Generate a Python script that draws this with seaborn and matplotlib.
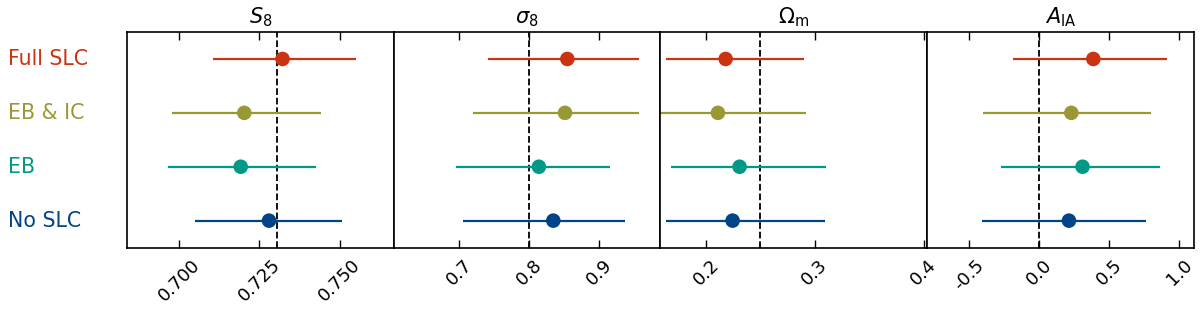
import numpy as np
import pandas as pd
import matplotlib
matplotlib.use("Agg")
import matplotlib.pyplot as plt
import seaborn as sns

# runs (top to bottom) and their colours
runs = ['Full SLC', 'EB & IC', 'EB', 'No SLC']
colors = ['#cc3311', '#999933', '#009988', '#004488']

params = [r'$S_8$', r'$\sigma_8$', r'$\Omega_{\rm m}$', r'$A_{\rm IA}$']
fiducial = [0.7304, 0.8, 0.25, 0.0]

# best fit, lower and upper edge of the error bar, per run
s8_mid = [0.7322, 0.7203, 0.7192, 0.7280]
s8_lo = [0.7106, 0.6979, 0.6966, 0.7049]
s8_hi = [0.7550, 0.7441, 0.7426, 0.7508]

sig8_mid = [0.8543, 0.8510, 0.8138, 0.8343]
sig8_lo = [0.7410, 0.7205, 0.6953, 0.7057]
sig8_hi = [0.9567, 0.9560, 0.9153, 0.9367]

om_mid = [0.2181, 0.2110, 0.2309, 0.2245]
om_lo = [0.1637, 0.1560, 0.1680, 0.1631]
om_hi = [0.2899, 0.2924, 0.3105, 0.3092]

aia_mid = [0.386, 0.229, 0.309, 0.212]
aia_lo = [-0.190, -0.405, -0.271, -0.412]
aia_hi = [0.910, 0.800, 0.859, 0.764]

xlims = [(0.6838, 0.7668), (0.607, 0.987), (0.1582, 0.4034), (-0.80, 1.105)]
xticks = [[0.700, 0.725, 0.750], [0.7, 0.8, 0.9], [0.2, 0.3, 0.4], [-0.5, 0.0, 0.5, 1.0]]
xticklabels = [['0.700', '0.725', '0.750'], ['0.7', '0.8', '0.9'],
               ['0.2', '0.3', '0.4'], ['-0.5', '0.0', '0.5', '1.0']]

mids = [s8_mid, sig8_mid, om_mid, aia_mid]
los = [s8_lo, sig8_lo, om_lo, aia_lo]
his = [s8_hi, sig8_hi, om_hi, aia_hi]

sns.set_style("white")
plt.rcParams['font.family'] = ['DejaVu Sans']
plt.rcParams['mathtext.fontset'] = 'dejavusans'
plt.rcParams['text.color'] = 'black'
plt.rcParams['xtick.color'] = 'black'
plt.rcParams['axes.labelcolor'] = 'black'

fig, axes = plt.subplots(1, 4, figsize=(12, 3.17), dpi=100, sharey=True)
fig.subplots_adjust(left=0.1058, right=0.995, top=0.899, bottom=0.219, wspace=0)

for i, ax in enumerate(axes):
    df = pd.DataFrame({'run': runs, 'mid': mids[i], 'lo': los[i], 'hi': his[i],
                       'y': np.arange(len(runs))})
    for _, r in df.iterrows():
        ax.plot([r['lo'], r['hi']], [r['y'], r['y']], color=colors[int(r['y'])], lw=1.6,
                solid_capstyle='butt', zorder=2)
    sns.scatterplot(data=df, x='mid', y='y', hue='run', palette=colors, hue_order=runs,
                    s=110, edgecolor='none', legend=False, ax=ax, zorder=3)
    ax.axvline(fiducial[i], color='black', ls='--', lw=1.3, zorder=1)
    ax.set_xlim(*xlims[i])
    ax.set_ylim(3.5, -0.5)
    ax.set_xticks(xticks[i])
    ax.set_xticklabels(xticklabels[i], rotation=45, fontsize=13, color='black')
    ax.tick_params(axis='x', direction='in', top=True, bottom=True, length=6, width=1, pad=6)
    ax.tick_params(axis='y', left=False, right=False, labelleft=False)
    ax.set_xlabel('')
    ax.set_ylabel('')
    ax.set_title(params[i], fontsize=15, pad=6, color='black')
    for sp in ax.spines.values():
        sp.set_color('black')
        sp.set_linewidth(1.2)

for j, name in enumerate(runs):
    axes[0].text(-0.445, j, name, color=colors[j], fontsize=14.8, va='center', ha='left',
                 transform=axes[0].get_yaxis_transform())

fig.savefig('out.png', dpi=100)
